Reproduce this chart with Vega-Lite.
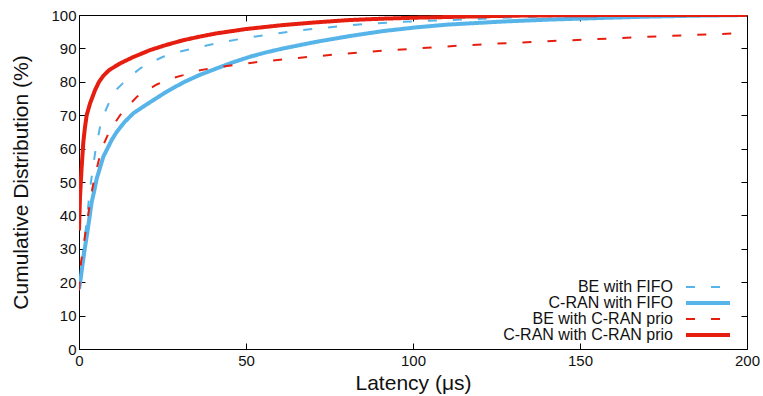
{
  "$schema": "https://vega.github.io/schema/vega-lite/v6.json",
  "width": 668,
  "height": 334,
  "autosize": "none",
  "padding": {"left": 79, "top": 15, "right": 16, "bottom": 47},
  "background": "white",
  "config": {
    "font": "Liberation Sans",
    "view": {"stroke": "black", "strokeWidth": 1},
    "axis": {
      "grid": false,
      "domainColor": "black",
      "domainWidth": 1,
      "tickColor": "black",
      "tickWidth": 1,
      "labelFont": "Liberation Sans",
      "labelFontSize": 15,
      "labelColor": "#111",
      "titleFont": "Liberation Sans",
      "titleFontSize": 21,
      "titleFontWeight": "normal",
      "titleColor": "#111"
    },
    "legend": {
      "orient": "none",
      "legendX": 621,
      "legendY": 264,
      "title": null,
      "symbolType": "M-3.667,0H3.667",
      "symbolSize": 144,
      "labelFont": "Liberation Sans",
      "labelFontSize": 16,
      "labelColor": "#111",
      "labelAlign": "right",
      "labelOffset": -43,
      "rowPadding": 0,
      "labelLimit": 400
    }
  },
  "data": {
    "values": [
      {"series": "BE with FIFO", "latency": 0, "cdf": 19.5},
      {"series": "BE with FIFO", "latency": 0.6, "cdf": 21.5},
      {"series": "BE with FIFO", "latency": 1.2, "cdf": 29},
      {"series": "BE with FIFO", "latency": 2.1, "cdf": 36.6},
      {"series": "BE with FIFO", "latency": 3.3, "cdf": 48},
      {"series": "BE with FIFO", "latency": 4.8, "cdf": 58.6},
      {"series": "BE with FIFO", "latency": 6.3, "cdf": 66.5},
      {"series": "BE with FIFO", "latency": 8, "cdf": 71.5},
      {"series": "BE with FIFO", "latency": 9.3, "cdf": 74.5},
      {"series": "BE with FIFO", "latency": 11, "cdf": 77.5},
      {"series": "BE with FIFO", "latency": 13.2, "cdf": 79.6},
      {"series": "BE with FIFO", "latency": 15.5, "cdf": 81.8},
      {"series": "BE with FIFO", "latency": 18.3, "cdf": 84},
      {"series": "BE with FIFO", "latency": 21.5, "cdf": 85.8},
      {"series": "BE with FIFO", "latency": 25.2, "cdf": 87.5},
      {"series": "BE with FIFO", "latency": 29.2, "cdf": 88.8},
      {"series": "BE with FIFO", "latency": 34.2, "cdf": 90},
      {"series": "BE with FIFO", "latency": 41, "cdf": 91.5},
      {"series": "BE with FIFO", "latency": 49.2, "cdf": 93},
      {"series": "BE with FIFO", "latency": 56, "cdf": 94},
      {"series": "BE with FIFO", "latency": 64.2, "cdf": 95.2},
      {"series": "BE with FIFO", "latency": 72, "cdf": 96},
      {"series": "BE with FIFO", "latency": 79.1, "cdf": 96.8},
      {"series": "BE with FIFO", "latency": 86, "cdf": 97.3},
      {"series": "BE with FIFO", "latency": 94.1, "cdf": 97.8},
      {"series": "BE with FIFO", "latency": 102, "cdf": 98.2},
      {"series": "BE with FIFO", "latency": 117, "cdf": 98.7},
      {"series": "BE with FIFO", "latency": 125, "cdf": 99.1},
      {"series": "BE with FIFO", "latency": 140, "cdf": 99.6},
      {"series": "BE with FIFO", "latency": 160, "cdf": 99.9},
      {"series": "BE with FIFO", "latency": 180, "cdf": 100},
      {"series": "BE with FIFO", "latency": 200, "cdf": 100},

      {"series": "C-RAN with FIFO", "latency": 0, "cdf": 18},
      {"series": "C-RAN with FIFO", "latency": 0.5, "cdf": 21},
      {"series": "C-RAN with FIFO", "latency": 1.1, "cdf": 25.6},
      {"series": "C-RAN with FIFO", "latency": 1.8, "cdf": 30.5},
      {"series": "C-RAN with FIFO", "latency": 2.6, "cdf": 35.6},
      {"series": "C-RAN with FIFO", "latency": 3.8, "cdf": 44},
      {"series": "C-RAN with FIFO", "latency": 4.6, "cdf": 47.5},
      {"series": "C-RAN with FIFO", "latency": 5.3, "cdf": 51},
      {"series": "C-RAN with FIFO", "latency": 7.3, "cdf": 57.6},
      {"series": "C-RAN with FIFO", "latency": 9.8, "cdf": 62.6},
      {"series": "C-RAN with FIFO", "latency": 11.3, "cdf": 65},
      {"series": "C-RAN with FIFO", "latency": 13.5, "cdf": 67.8},
      {"series": "C-RAN with FIFO", "latency": 16.3, "cdf": 70.6},
      {"series": "C-RAN with FIFO", "latency": 19, "cdf": 72.4},
      {"series": "C-RAN with FIFO", "latency": 21.3, "cdf": 73.9},
      {"series": "C-RAN with FIFO", "latency": 26, "cdf": 76.9},
      {"series": "C-RAN with FIFO", "latency": 31.2, "cdf": 79.8},
      {"series": "C-RAN with FIFO", "latency": 36, "cdf": 82},
      {"series": "C-RAN with FIFO", "latency": 41.2, "cdf": 84},
      {"series": "C-RAN with FIFO", "latency": 46, "cdf": 85.8},
      {"series": "C-RAN with FIFO", "latency": 51.2, "cdf": 87.5},
      {"series": "C-RAN with FIFO", "latency": 56, "cdf": 88.8},
      {"series": "C-RAN with FIFO", "latency": 61.2, "cdf": 90},
      {"series": "C-RAN with FIFO", "latency": 71.2, "cdf": 92},
      {"series": "C-RAN with FIFO", "latency": 81.1, "cdf": 93.7},
      {"series": "C-RAN with FIFO", "latency": 91.1, "cdf": 95.2},
      {"series": "C-RAN with FIFO", "latency": 101, "cdf": 96.3},
      {"series": "C-RAN with FIFO", "latency": 110, "cdf": 97.1},
      {"series": "C-RAN with FIFO", "latency": 126, "cdf": 98},
      {"series": "C-RAN with FIFO", "latency": 140, "cdf": 98.6},
      {"series": "C-RAN with FIFO", "latency": 156, "cdf": 99.1},
      {"series": "C-RAN with FIFO", "latency": 170, "cdf": 99.5},
      {"series": "C-RAN with FIFO", "latency": 185, "cdf": 99.8},
      {"series": "C-RAN with FIFO", "latency": 200, "cdf": 100},

      {"series": "BE with C-RAN prio", "latency": 0, "cdf": 17.5},
      {"series": "BE with C-RAN prio", "latency": 0.6, "cdf": 26},
      {"series": "BE with C-RAN prio", "latency": 1.3, "cdf": 30.5},
      {"series": "BE with C-RAN prio", "latency": 1.9, "cdf": 34.7},
      {"series": "BE with C-RAN prio", "latency": 2.8, "cdf": 40.6},
      {"series": "BE with C-RAN prio", "latency": 4.1, "cdf": 48.6},
      {"series": "BE with C-RAN prio", "latency": 4.8, "cdf": 52},
      {"series": "BE with C-RAN prio", "latency": 6.8, "cdf": 60},
      {"series": "BE with C-RAN prio", "latency": 9.3, "cdf": 65.6},
      {"series": "BE with C-RAN prio", "latency": 12.3, "cdf": 70},
      {"series": "BE with C-RAN prio", "latency": 15, "cdf": 73},
      {"series": "BE with C-RAN prio", "latency": 17.3, "cdf": 75.5},
      {"series": "BE with C-RAN prio", "latency": 20, "cdf": 77.3},
      {"series": "BE with C-RAN prio", "latency": 23.3, "cdf": 79.2},
      {"series": "BE with C-RAN prio", "latency": 27, "cdf": 80.8},
      {"series": "BE with C-RAN prio", "latency": 31.2, "cdf": 82},
      {"series": "BE with C-RAN prio", "latency": 35, "cdf": 83.2},
      {"series": "BE with C-RAN prio", "latency": 39.2, "cdf": 84},
      {"series": "BE with C-RAN prio", "latency": 46.2, "cdf": 85},
      {"series": "BE with C-RAN prio", "latency": 54.2, "cdf": 86},
      {"series": "BE with C-RAN prio", "latency": 61.2, "cdf": 86.7},
      {"series": "BE with C-RAN prio", "latency": 69.2, "cdf": 87.5},
      {"series": "BE with C-RAN prio", "latency": 77.2, "cdf": 88.2},
      {"series": "BE with C-RAN prio", "latency": 84.1, "cdf": 88.8},
      {"series": "BE with C-RAN prio", "latency": 92.1, "cdf": 89.4},
      {"series": "BE with C-RAN prio", "latency": 100, "cdf": 89.9},
      {"series": "BE with C-RAN prio", "latency": 115, "cdf": 90.9},
      {"series": "BE with C-RAN prio", "latency": 130.5, "cdf": 91.7},
      {"series": "BE with C-RAN prio", "latency": 146, "cdf": 92.4},
      {"series": "BE with C-RAN prio", "latency": 160, "cdf": 93},
      {"series": "BE with C-RAN prio", "latency": 175, "cdf": 93.7},
      {"series": "BE with C-RAN prio", "latency": 200, "cdf": 94.6},

      {"series": "C-RAN with C-RAN prio", "latency": 0, "cdf": 35.5},
      {"series": "C-RAN with C-RAN prio", "latency": 0.3, "cdf": 45.5},
      {"series": "C-RAN with C-RAN prio", "latency": 0.8, "cdf": 54.5},
      {"series": "C-RAN with C-RAN prio", "latency": 1.3, "cdf": 62},
      {"series": "C-RAN with C-RAN prio", "latency": 1.8, "cdf": 66.5},
      {"series": "C-RAN with C-RAN prio", "latency": 2.3, "cdf": 70},
      {"series": "C-RAN with C-RAN prio", "latency": 3.3, "cdf": 73.5},
      {"series": "C-RAN with C-RAN prio", "latency": 4.8, "cdf": 77.5},
      {"series": "C-RAN with C-RAN prio", "latency": 6, "cdf": 80},
      {"series": "C-RAN with C-RAN prio", "latency": 7.3, "cdf": 81.8},
      {"series": "C-RAN with C-RAN prio", "latency": 9, "cdf": 83.5},
      {"series": "C-RAN with C-RAN prio", "latency": 12.3, "cdf": 85.5},
      {"series": "C-RAN with C-RAN prio", "latency": 16, "cdf": 87.3},
      {"series": "C-RAN with C-RAN prio", "latency": 21.3, "cdf": 89.5},
      {"series": "C-RAN with C-RAN prio", "latency": 26, "cdf": 91},
      {"series": "C-RAN with C-RAN prio", "latency": 31, "cdf": 92.4},
      {"series": "C-RAN with C-RAN prio", "latency": 36, "cdf": 93.5},
      {"series": "C-RAN with C-RAN prio", "latency": 41.2, "cdf": 94.5},
      {"series": "C-RAN with C-RAN prio", "latency": 50, "cdf": 95.8},
      {"series": "C-RAN with C-RAN prio", "latency": 61.2, "cdf": 97},
      {"series": "C-RAN with C-RAN prio", "latency": 71, "cdf": 97.8},
      {"series": "C-RAN with C-RAN prio", "latency": 81, "cdf": 98.5},
      {"series": "C-RAN with C-RAN prio", "latency": 91, "cdf": 98.9},
      {"series": "C-RAN with C-RAN prio", "latency": 101, "cdf": 99.2},
      {"series": "C-RAN with C-RAN prio", "latency": 115, "cdf": 99.5},
      {"series": "C-RAN with C-RAN prio", "latency": 130, "cdf": 99.8},
      {"series": "C-RAN with C-RAN prio", "latency": 150, "cdf": 99.95},
      {"series": "C-RAN with C-RAN prio", "latency": 170, "cdf": 100},
      {"series": "C-RAN with C-RAN prio", "latency": 200, "cdf": 100}
    ]
  },
  "layer": [
    {
      "mark": {"type": "line", "clip": true, "strokeCap": "butt", "strokeJoin": "round"},
      "encoding": {
        "x": {
          "field": "latency", "type": "quantitative",
          "scale": {"domain": [0, 200], "nice": false, "zero": false},
          "axis": {"orient": "bottom", "title": "Latency (μs)", "values": [0, 50, 100, 150, 200], "tickSize": -6, "labelPadding": 10, "titlePadding": 4, "labelFlush": false}
        },
        "y": {
          "field": "cdf", "type": "quantitative",
          "scale": {"domain": [0, 100], "nice": false},
          "axis": {"orient": "left", "title": "Cumulative Distribution (%)", "values": [0, 10, 20, 30, 40, 50, 60, 70, 80, 90, 100], "tickSize": -6, "labelPadding": 9, "titlePadding": 19}
        },
        "color": {
          "field": "series", "type": "nominal",
          "scale": {"domain": ["BE with FIFO", "C-RAN with FIFO", "BE with C-RAN prio", "C-RAN with C-RAN prio"], "range": ["#56B4E9", "#56B4E9", "#E51E10", "#E51E10"]}
        },
        "strokeDash": {
          "field": "series", "type": "nominal",
          "scale": {"domain": ["BE with FIFO", "C-RAN with FIFO", "BE with C-RAN prio", "C-RAN with C-RAN prio"], "range": [[9, 16], [1, 0], [9, 16], [1, 0]]}
        },
        "strokeWidth": {
          "field": "series", "type": "nominal",
          "scale": {"type": "ordinal", "domain": ["BE with FIFO", "C-RAN with FIFO", "BE with C-RAN prio", "C-RAN with C-RAN prio"], "range": [2, 4, 2, 4]}
        }
      }
    },
    {
      "mark": {"type": "line", "opacity": 0},
      "encoding": {
        "x": {
          "field": "latency", "type": "quantitative",
          "scale": {"domain": [0, 200], "nice": false, "zero": false},
          "axis": {"orient": "top", "title": null, "labels": false, "values": [50, 100, 150], "tickSize": -6, "domain": false}
        },
        "y": {
          "field": "cdf", "type": "quantitative",
          "scale": {"domain": [0, 100], "nice": false},
          "axis": {"orient": "right", "title": null, "labels": false, "values": [10, 20, 30, 40, 50, 60, 70, 80, 90], "tickSize": -6, "domain": false}
        },
        "detail": {"field": "series", "type": "nominal"}
      }
    }
  ],
  "resolve": {"axis": {"x": "independent", "y": "independent"}}
}
